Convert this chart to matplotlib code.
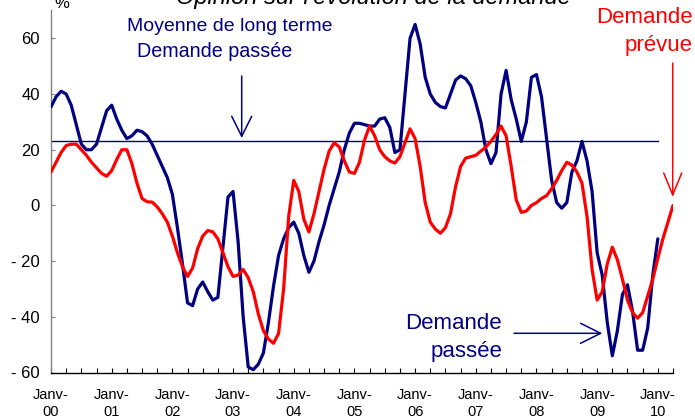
import matplotlib
matplotlib.use("Agg")
import matplotlib.pyplot as plt
import numpy as np
from matplotlib.patches import ArrowStyle

plt.rcParams['font.family'] = ['Liberation Sans', 'DejaVu Sans']

# Monthly data, Jan 2000 onwards (x = month index)
demande_passee = [
    35.4, 39, 41, 40, 36, 29, 22, 20, 20, 22, 28, 34,
    36, 31, 27, 24, 25, 27, 26.5, 25, 22, 18, 14, 10,
    4, -8, -21, -35, -36, -30, -27.5, -31, -34, -33, -15, 3,
    5, -13, -40, -58, -59, -57, -53, -42, -29, -18, -12, -8,
    -6, -10, -18, -24, -20, -13, -7, 0, 6, 12, 20, 26,
    29.5, 29.5, 29, 28.5, 28.5, 31, 31.5, 28, 19, 20, 40, 60,
    65, 58, 46, 40, 37, 35.5, 35, 40, 45, 46.5, 45.5, 43,
    37, 30, 20, 15, 19, 40, 48.5, 38, 31, 23, 30, 46,
    47, 39, 24, 9, 1, -1, 1, 12, 16, 23, 16, 5,
    -17, -25, -42, -54, -45, -32, -28.5, -38, -52, -52, -44, -25,
    -12,
]
demande_prevue = [
    12, 15.5, 19, 21.5, 22, 22, 20, 18, 15.5, 13.5, 11.5, 10.5,
    12.5, 16.5, 20, 20, 15, 8, 2.5, 1.3, 1.2, -0.5, -3, -6,
    -11, -17, -22, -25.5, -22.5, -15.5, -11, -9, -9.5, -12, -17, -22,
    -25.5, -25, -23, -26, -31, -39, -45, -48, -49.5, -46, -30, -4,
    9, 5, -5, -9.5, -3, 5, 13, 19.5, 22.5, 21, 16, 12,
    11.5, 15.5, 23.5, 28.5, 25, 20, 17.5, 16, 15.2, 17.5, 22.5, 27.5,
    24, 14, 1, -6, -8.5, -10, -8, -3, 6.7, 14, 17, 17.5,
    18, 19.5, 21, 23, 25.5, 28.5, 25, 14, 2, -2.5, -2, 0,
    1, 2.5, 3.5, 6, 9, 12.5, 15.5, 14.5, 12, 8, -4, -23,
    -34, -31, -21, -15, -19.5, -26.5, -34, -38.5, -40.5, -38.5, -32.5, -26.5,
    -19, -12, -6, 0,
]
moyenne_long_terme = 23
year_labels = ['Janv-\n00', 'Janv-\n01', 'Janv-\n02', 'Janv-\n03', 'Janv-\n04',
               'Janv-\n05', 'Janv-\n06', 'Janv-\n07', 'Janv-\n08', 'Janv-\n09',
               'Janv-\n10']
y_ticks = [60, 40, 20, 0, -20, -40, -60]
y_tick_labels = ['60', '40', '20', '0', '- 20', '- 40', '- 60']

NAVY = '#000080'
RED = '#FF0000'
W, H = 695, 418

fig = plt.figure(figsize=(W / 100, H / 100), dpi=100)
ax = fig.add_axes([51 / W, (H - 372.5) / H, 622 / W, 362 / H])

x_blue = np.arange(len(demande_passee))
x_red = np.arange(len(demande_prevue))
ax.plot(x_blue, demande_passee, color=NAVY, lw=2.3, solid_capstyle='round',
        solid_joinstyle='round', zorder=3)
ax.plot(x_red, demande_prevue, color=RED, lw=2.3, solid_capstyle='round',
        solid_joinstyle='round', zorder=3)
ax.plot([0, 120], [moyenne_long_terme, moyenne_long_terme], color=NAVY, lw=1.0, zorder=2)

ax.set_xlim(0, 123)
ax.set_ylim(-60, 70)

for s in ['top', 'right']:
    ax.spines[s].set_visible(False)
ax.spines['left'].set_color('#808080')
ax.spines['left'].set_linewidth(1.0)
ax.spines['bottom'].set_color('#000000')
ax.spines['bottom'].set_linewidth(1.0)

ax.set_xticks(np.arange(0, 121, 12))
ax.set_xticklabels(year_labels, fontsize=10.5, linespacing=1.3)
ax.set_xticks(np.arange(0, 124, 3), minor=True)
ax.tick_params(axis='x', which='both', direction='in', length=3.5, width=0.8,
               color='#000000', pad=11)
ax.set_yticks(y_ticks)
ax.set_yticklabels(y_tick_labels, fontsize=12)
ax.tick_params(axis='y', direction='in', length=3, width=0.8, color='#808080', pad=8)

# Title (clipped at top, as in the reference) and unit
fig.text(373 / W, 1 - 4 / H, "Opinion sur l'évolution de la demande",
         ha='center', va='baseline', style='italic', fontsize=17)
fig.text(62 / W, 1 - 8 / H, '%', ha='center', va='baseline', fontsize=12)

# Annotations
fig.text(229.7 / W, 1 - 31 / H, 'Moyenne de long terme', ha='center', va='baseline',
         fontsize=14, color=NAVY)
fig.text(215 / W, 1 - 56.7 / H, 'Demande passée', ha='center', va='baseline',
         fontsize=14.2, color=NAVY)
fig.text(693 / W, 1 - 23.3 / H, 'Demande', ha='right', va='baseline',
         fontsize=16, color=RED)
fig.text(693 / W, 1 - 51.5 / H, 'prévue', ha='right', va='baseline',
         fontsize=16, color=RED)
fig.text(502 / W, 1 - 329.3 / H, 'Demande', ha='right', va='baseline',
         fontsize=16, color=NAVY)
fig.text(502 / W, 1 - 356.7 / H, 'passée', ha='right', va='baseline',
         fontsize=16, color=NAVY)


def arrow(x0, y0, x1, y1, color, hl=20, hw=10):
    style = ArrowStyle('->', head_length=hl * 0.72 / 10, head_width=hw * 0.72 / 10)
    ax.annotate('', xy=(x1, H - y1), xycoords='figure pixels',
                xytext=(x0, H - y0), textcoords='figure pixels',
                arrowprops=dict(arrowstyle=style, mutation_scale=10, color=color,
                                lw=1.1, shrinkA=0, shrinkB=0),
                annotation_clip=False)


arrow(241.7, 76, 241.7, 138, NAVY)
arrow(672.7, 63, 672.7, 197, RED, hl=22, hw=9)
arrow(514, 333.3, 602.3, 333.3, NAVY)

fig.savefig('out.png', dpi=100)
